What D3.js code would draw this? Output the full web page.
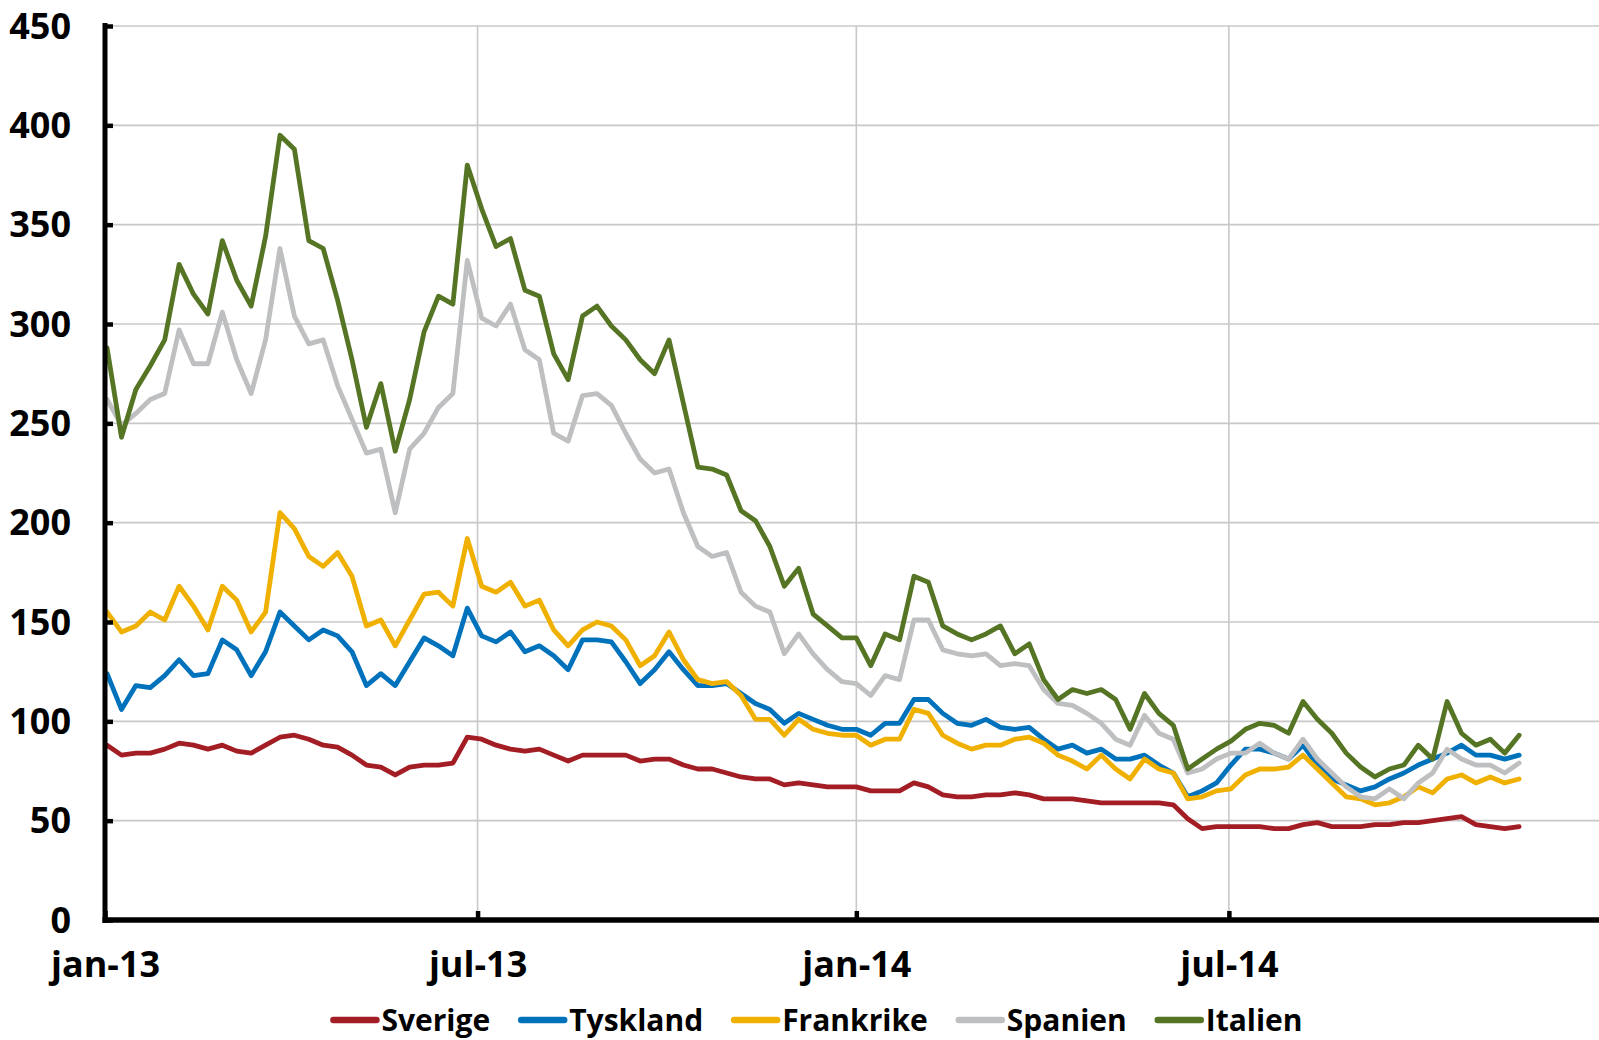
<!DOCTYPE html>
<html>
<head>
<meta charset="utf-8">
<script src="https://cdn.jsdelivr.net/npm/d3@7/dist/d3.min.js"></script>
<style>
  html, body { margin: 0; padding: 0; background: #fff; }
  svg { display: block; font-family: "Open Sans", "DejaVu Sans", sans-serif; font-weight: 700; }
</style>
</head>
<body>
<svg id="chart" width="1599" height="1040"></svg>
<script>
// Weekly observations (Wednesdays), 2 Jan 2013 – 19 Nov 2014
const weeks = d3.timeWednesday.range(new Date(2013, 0, 2), new Date(2014, 10, 20));

const seriesNames = ["Sverige", "Tyskland", "Frankrike", "Spanien", "Italien"];
const seriesColors = ["#A31D24", "#0072BC", "#F0B000", "#BEBFC1", "#557424"];

const sverige = [88, 83, 84, 84, 86, 89, 88, 86, 88, 85, 84, 88, 92, 93, 91, 88, 87, 83, 78, 77,
  73, 77, 78, 78, 79, 92, 91, 88, 86, 85, 86, 83, 80, 83, 83, 83, 83, 80, 81, 81,
  78, 76, 76, 74, 72, 71, 71, 68, 69, 68, 67, 67, 67, 65, 65, 65, 69, 67, 63, 62,
  62, 63, 63, 64, 63, 61, 61, 61, 60, 59, 59, 59, 59, 59, 58, 51, 46, 47, 47, 47,
  47, 46, 46, 48, 49, 47, 47, 47, 48, 48, 49, 49, 50, 51, 52, 48, 47, 46, 47];

const tyskland = [124, 106, 118, 117, 123, 131, 123, 124, 141, 136, 123, 135, 155, 148, 141, 146, 143, 135, 118, 124,
  118, 130, 142, 138, 133, 157, 143, 140, 145, 135, 138, 133, 126, 141, 141, 140, 130, 119, 126, 135,
  126, 118, 118, 119, 114, 109, 106, 99, 104, 101, 98, 96, 96, 93, 99, 99, 111, 111, 104, 99,
  98, 101, 97, 96, 97, 91, 86, 88, 84, 86, 81, 81, 83, 78, 74, 62, 65, 69, 78, 86,
  86, 84, 81, 88, 78, 71, 68, 65, 67, 71, 74, 78, 81, 84, 88, 83, 83, 81, 83];

const frankrike = [155, 145, 148, 155, 151, 168, 158, 146, 168, 161, 145, 155, 205, 197, 183, 178, 185, 173, 148, 151,
  138, 151, 164, 165, 158, 192, 168, 165, 170, 158, 161, 146, 138, 146, 150, 148, 141, 128, 133, 145,
  131, 121, 119, 120, 113, 101, 101, 93, 101, 96, 94, 93, 93, 88, 91, 91, 106, 104, 93, 89,
  86, 88, 88, 91, 92, 89, 83, 80, 76, 83, 76, 71, 81, 76, 74, 61, 62, 65, 66, 73,
  76, 76, 77, 83, 76, 69, 62, 61, 58, 59, 62, 67, 64, 71, 73, 69, 72, 69, 71];

const spanien = [262, 249, 255, 262, 265, 297, 280, 280, 306, 282, 265, 292, 338, 304, 290, 292, 269, 252, 235, 237,
  205, 237, 245, 258, 265, 332, 303, 299, 310, 287, 282, 245, 241, 264, 265, 259, 245, 232, 225, 227,
  205, 188, 183, 185, 165, 158, 155, 134, 144, 134, 126, 120, 119, 113, 123, 121, 151, 151, 136, 134,
  133, 134, 128, 129, 128, 116, 109, 108, 104, 99, 91, 88, 103, 94, 91, 74, 76, 81, 84, 84,
  89, 84, 81, 91, 81, 74, 67, 62, 61, 66, 61, 69, 74, 86, 81, 78, 78, 74, 79];

const italien = [288, 243, 267, 279, 292, 330, 315, 305, 342, 322, 309, 344, 395, 388, 342, 338, 312, 282, 248, 270,
  236, 262, 296, 314, 310, 380, 358, 339, 343, 317, 314, 285, 272, 304, 309, 299, 292, 282, 275, 292,
  260, 228, 227, 224, 206, 201, 188, 168, 177, 154, 148, 142, 142, 128, 144, 141, 173, 170, 148, 144,
  141, 144, 148, 134, 139, 121, 111, 116, 114, 116, 111, 96, 114, 104, 98, 76, 81, 86, 90, 96,
  99, 98, 94, 110, 101, 94, 84, 77, 72, 76, 78, 88, 81, 110, 94, 88, 91, 84, 93];

const seriesValues = [sverige, tyskland, frankrike, spanien, italien];

const yTicks = [0, 50, 100, 150, 200, 250, 300, 350, 400, 450];
const xTickDates = [new Date(2013, 0, 1), new Date(2013, 6, 1), new Date(2014, 0, 1), new Date(2014, 6, 1)];
const xTickLabels = ["jan-13", "jul-13", "jan-14", "jul-14"];

// ---- layout ----
const svg = d3.select("#chart");
const plotLeft = 105, plotBottom = 920, plotTop = 26, plotRight = 1599;
const x = d3.scaleTime()
  .domain([new Date(2013, 0, 1), new Date(2015, 0, 1)])
  .range([plotLeft, plotLeft + 730 * 2.0584]);
const y = d3.scaleLinear().domain([0, 450]).range([plotBottom, plotTop]);

// gridlines
const grid = svg.append("g").attr("stroke", "#C8C8C8").attr("stroke-width", 1.6);
grid.selectAll("line.h").data(yTicks.filter(d => d > 0)).join("line").attr("class", "h")
  .attr("x1", plotLeft).attr("x2", plotRight)
  .attr("y1", d => y(d)).attr("y2", d => y(d));
grid.selectAll("line.v").data(xTickDates.slice(1)).join("line").attr("class", "v")
  .attr("x1", d => x(d)).attr("x2", d => x(d))
  .attr("y1", plotTop).attr("y2", plotBottom);

// series
const line = d3.line()
  .x((d, i) => x(weeks[i]))
  .y(d => y(d));
svg.append("g").selectAll("path").data(seriesValues).join("path")
  .attr("d", d => line(d))
  .attr("fill", "none")
  .attr("stroke", (d, i) => seriesColors[i])
  .attr("stroke-width", 4.8)
  .attr("stroke-linejoin", "round")
  .attr("stroke-linecap", "round");

// y axis
const yAxis = svg.append("g").attr("transform", `translate(${plotLeft},0)`)
  .call(d3.axisLeft(y).tickValues(yTicks).tickSizeInner(-8).tickSizeOuter(0).tickPadding(34));
yAxis.select(".domain").remove();
yAxis.append("line").attr("x1", 0).attr("x2", 0).attr("y1", plotTop - 3).attr("y2", plotBottom + 3)
  .attr("stroke", "#000").attr("stroke-width", 5);
yAxis.selectAll(".tick line").attr("stroke", "#000").attr("stroke-width", 4.5);
yAxis.selectAll(".tick text")
  .attr("fill", "#000").attr("font-size", 36).attr("font-weight", 700)
  .attr("font-family", "'Open Sans', sans-serif").attr("dy", "0.34em");

// x axis
const xAxis = svg.append("g").attr("transform", `translate(0,${plotBottom})`)
  .call(d3.axisBottom(x).tickValues(xTickDates).tickFormat((d, i) => xTickLabels[i])
    .tickSizeInner(-9).tickSizeOuter(0).tickPadding(30));
xAxis.select(".domain").remove();
xAxis.append("line").attr("x1", plotLeft - 2.5).attr("x2", plotRight).attr("y1", 0).attr("y2", 0)
  .attr("stroke", "#000").attr("stroke-width", 5.5);
xAxis.selectAll(".tick line").attr("stroke", "#000").attr("stroke-width", 4.5);
xAxis.selectAll(".tick text")
  .attr("fill", "#000").attr("font-size", 36).attr("font-weight", 700)
  .attr("font-family", "'Open Sans', sans-serif")
  .attr("dy", null).attr("y", 57);

// legend
const legend = svg.append("g").attr("font-size", 30).attr("font-weight", 700);
const swatch = 47, swGap = 3, itemGap = 29, legendY = 1020;
const items = legend.selectAll("g").data(seriesNames).join("g");
items.append("line")
  .attr("x1", 2).attr("x2", swatch - 2).attr("y1", 0).attr("y2", 0)
  .attr("stroke", (d, i) => seriesColors[i]).attr("stroke-width", 6.5).attr("stroke-linecap", "round");
items.append("text").text(d => d)
  .attr("x", swatch + swGap).attr("y", 10.5).attr("fill", "#000");
const widths = [];
items.select("text").each(function () { widths.push(this.getComputedTextLength()); });
const total = d3.sum(widths) + seriesNames.length * (swatch + swGap) + (seriesNames.length - 1) * itemGap;
let cursor = 817 - total / 2;
items.attr("transform", (d, i) => {
  const t = `translate(${cursor},${legendY})`;
  cursor += swatch + swGap + widths[i] + itemGap;
  return t;
});
</script>
</body>
</html>
